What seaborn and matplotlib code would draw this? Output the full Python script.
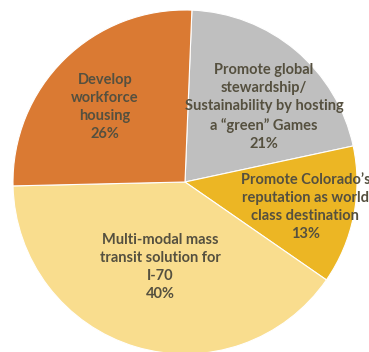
import matplotlib
matplotlib.use("Agg")
import matplotlib.pyplot as plt
import seaborn as sns

sns.set_theme(style="white")
plt.rcParams['font.family'] = ['Lato', 'DejaVu Sans']

# Data (clockwise from top)
categories = [
    "Promote global\nstewardship/\nSustainability by hosting\na \u201cgreen\u201d Games",
    "Promote Colorado\u2019s\nreputation as world\nclass destination",
    "Multi-modal mass\ntransit solution for\nI-70",
    "Develop\nworkforce\nhousing",
]
values = [21, 13, 40, 26]
colors = ["#BFBFBF", "#ECB624", "#F9DD8E", "#DA7A33"]
label_pos = [(0.46, 0.436), (0.70, -0.145), (-0.145, -0.494), (-0.465, 0.436)]

fig = plt.figure(figsize=(3.69, 3.52), dpi=100)
ax = fig.add_axes([0, 0, 1, 1])
wedges, _ = ax.pie(values, colors=colors, startangle=87.7, counterclock=False,
                   radius=1.0, wedgeprops=dict(edgecolor="white", linewidth=0.8))
for cat, v, (x, y) in zip(categories, values, label_pos):
    ax.text(x, y, f"{cat}\n{v}%", ha="center", va="center", fontsize=10.5,
            fontweight="bold", color="#55503f", linespacing=1.38)
ax.set_xlim(-185 / 172, (369 - 185) / 172)
ax.set_ylim(-170 / 172, (352 - 170) / 172)
ax.set_aspect("auto")
ax.axis("off")
fig.savefig("out.png", dpi=100)
